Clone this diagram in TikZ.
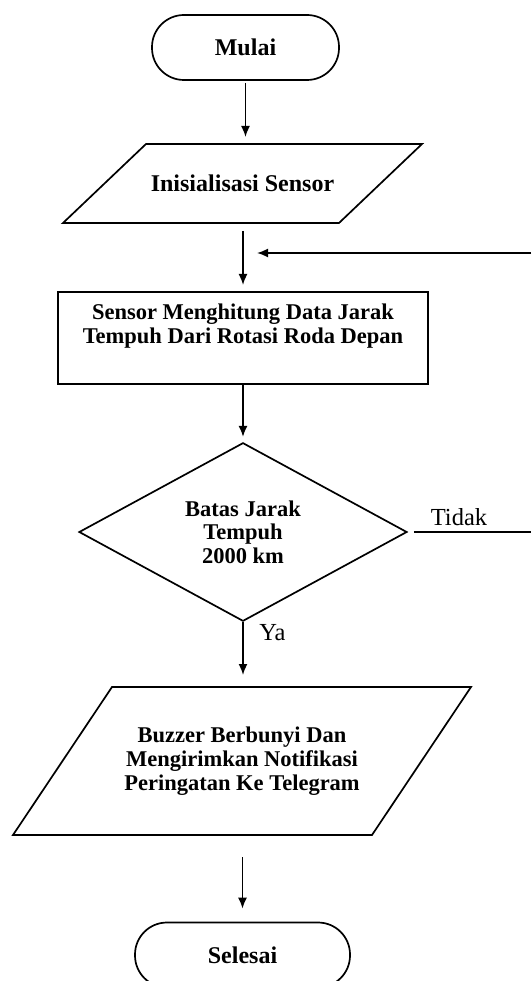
\documentclass[tikz,border=0pt]{standalone}
\usepackage{fontspec}
\setmainfont{Liberation Serif}
\usetikzlibrary{shapes.geometric,arrows.meta,calc}
\begin{document}
\begin{tikzpicture}[x=1pt,y=-1pt,
  line width=1.7pt,
  arr/.style={-{Latex[length=11pt,width=9pt]}},
  terminal/.style={draw, rectangle, rounded corners=32pt, minimum height=65pt, inner sep=0pt,
    font=\bfseries\fontsize{24}{27}\selectfont},
  iobox/.style={rectangle, inner sep=0pt, outer sep=0pt, align=center},
  procbox/.style={draw, rectangle, inner sep=0pt, outer sep=0pt},
  decision/.style={draw, diamond, inner sep=0pt, align=center,
    font=\bfseries\fontsize{22.5}{23.5}\selectfont},
  bodytext/.style={align=center, inner sep=0pt, font=\bfseries\fontsize{22.5}{24}\selectfont},
  lbl/.style={inner sep=0pt, font=\fontsize{24.5}{28}\selectfont}
]
\useasboundingbox (0,0) rectangle (531,981);

% nodes
\node[terminal, minimum width=187pt] (start) at (245.5,47.5) {Mulai};

\node[iobox, minimum width=359pt, minimum height=79pt,
  font=\bfseries\fontsize{24}{27}\selectfont] (init) at (242.5,183.5) {\raisebox{-2pt}{Inisialisasi Sensor}};
\draw (init.south west) -- ([xshift=83pt]init.north west) -- (init.north east)
  -- ([xshift=-83pt]init.south east) -- cycle;

\node[procbox, minimum width=370pt, minimum height=92pt] (proc) at (243,338) {};
\node[bodytext] (proctext) at (243,326) {Sensor Menghitung Data Jarak\\Tempuh Dari Rotasi Roda Depan};

\node[decision, minimum width=328pt, minimum height=174pt] (dec) at (243,532)
  {Batas Jarak\\Tempuh\\2000 km};

\node[iobox, minimum width=458pt, minimum height=148pt,
  font=\bfseries\fontsize{22.5}{24}\selectfont] (out) at (242,761)
  {Buzzer Berbunyi Dan\\Mengirimkan Notifikasi\\Peringatan Ke Telegram};
\draw (out.south west) -- ([xshift=99pt]out.north west) -- (out.north east)
  -- ([xshift=-99pt]out.south east) -- cycle;

\node[terminal, minimum width=215pt] (stop) at (242.5,955) {Selesai};

% connectors
\draw[arr, shorten <=2pt, shorten >=7pt] (start.south) -- (start.south |- init.north);
\draw[arr, shorten <=8pt, shorten >=7pt] (init.south -| proc.north) -- (proc.north);
\draw[arr, shorten >=5pt] (proc.south) -- (dec.north);
\draw[arr, shorten >=12pt] (dec.south) -- (out.north -| dec.south);
\draw[arr, shorten <=22pt, shorten >=13pt] (out.south -| stop.north) -- (stop.north);

% loop back
\coordinate (fbR) at (531,253);
\coordinate (fbL) at (257,253);
\draw[arr] (fbR) -- (fbL);
\coordinate (tdR) at (531,532);
\draw ([xshift=6pt]dec.east) -- (tdR);

% labels
\node[lbl] (tidak) at (459,517) {Tidak};
\node[lbl] (ya) at (272.5,633) {Ya};
\end{tikzpicture}
\end{document}
